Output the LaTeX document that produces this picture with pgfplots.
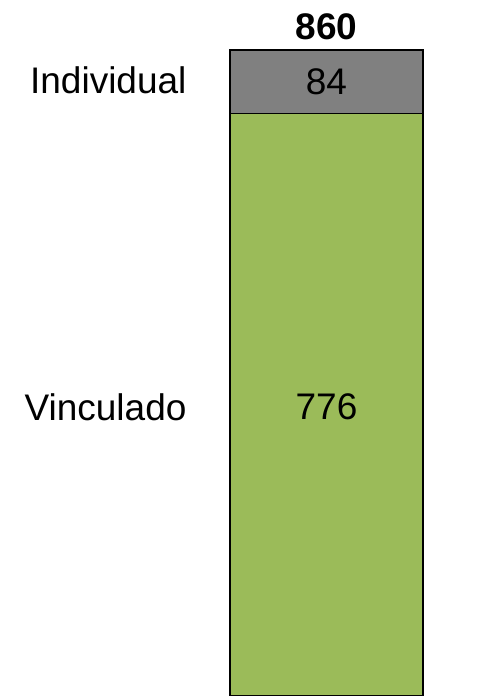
\documentclass[border=0pt]{standalone}
\usepackage{pgfplots}
\pgfplotsset{compat=1.18}
\usepackage{fontspec}
\setmainfont{Liberation Sans}
\definecolor{bargreen}{HTML}{9BBB59}
\definecolor{bargray}{HTML}{808080}
\begin{document}
\begin{tikzpicture}
\begin{axis}[
  scale only axis, width=490pt, height=696pt,
  xmin=0, xmax=490, ymin=5.3, ymax=925.9,
  hide axis, ybar stacked, bar width=193,
  clip=true,
]
\addplot[fill=bargreen, draw=black, line width=1.5pt] coordinates {(326.5,776)};
\addplot[fill=bargray, draw=black, line width=1.5pt] coordinates {(326.5,84)};
\coordinate (l84) at (axis cs:326.5,817.5);
\coordinate (l776) at (axis cs:326.5,387.6);
\coordinate (l860) at (axis cs:326.5,890.2);
\coordinate (lind) at (axis cs:190,820);
\coordinate (lvin) at (axis cs:190,387.6);
\end{axis}
\node[font=\fontsize{37}{42}\selectfont] at (l84) {84};
\node[font=\fontsize{37}{42}\selectfont] at (l776) {776};
\node[font=\fontsize{37}{42}\selectfont\bfseries] at (l860) {860};
\node[font=\fontsize{37}{42}\selectfont, anchor=east] at (lind) {Individual};
\node[font=\fontsize{37}{42}\selectfont, anchor=east] at (lvin) {Vinculado};
\pgfresetboundingbox
\path (0,0) rectangle (490pt,696pt);
\end{tikzpicture}
\end{document}
